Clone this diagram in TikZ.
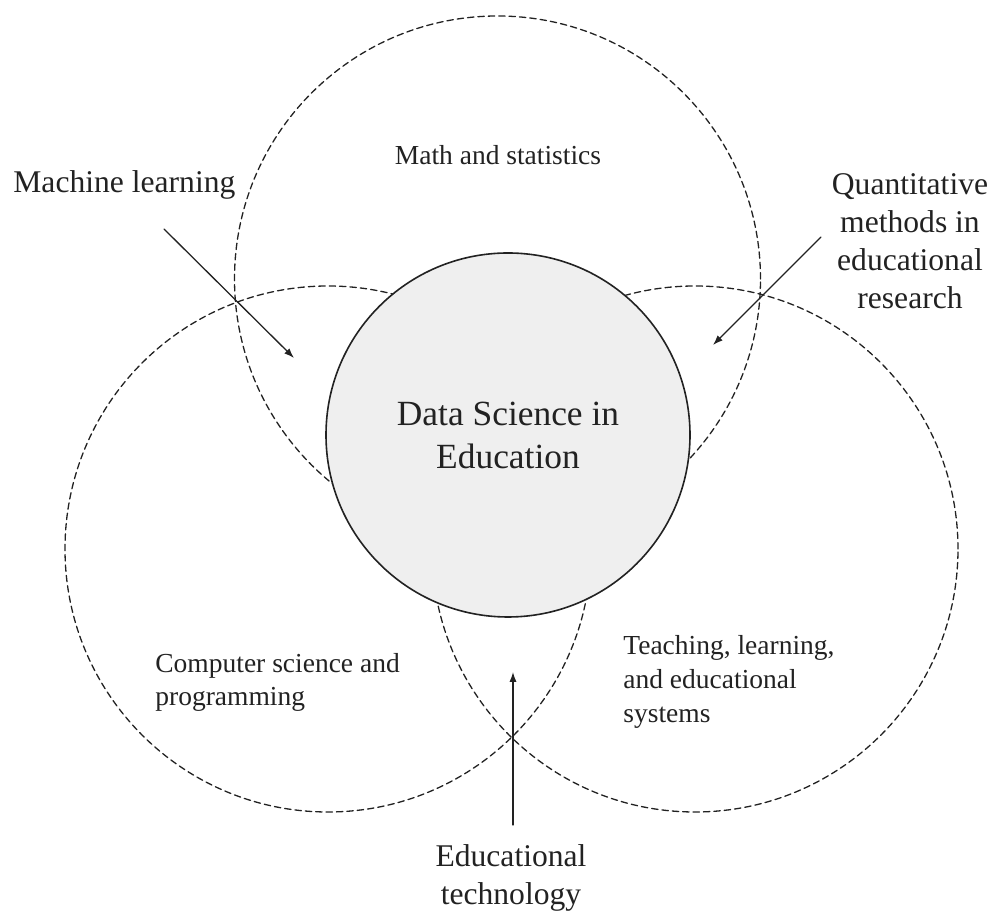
\documentclass[tikz,border=0pt]{standalone}
\usepackage{fontspec}
\setmainfont{Liberation Serif}
\usepackage{xcolor}
\usepackage{tikz}
\usetikzlibrary{arrows.meta}
\definecolor{ink}{HTML}{222222}
\definecolor{corefill}{HTML}{EFEFEF}
\tikzset{
  FieldCircle/.style={
    draw=ink, line width=0.65pt,
    dash pattern=on 3.2pt off 2pt
  },
  CoreCircle/.style={
    circle, draw=ink, line width=0.8pt,
    fill=corefill, minimum size=182pt, inner sep=0pt,
    align=center, text=ink,
    font=\fontsize{17.7pt}{21.5pt}\selectfont
  },
  Pointer/.style={
    draw=ink, line width=0.65pt,
    -{Latex[length=5pt,width=3.6pt]}
  },
  BigLabel/.style={
    inner sep=0pt, align=center, text=ink,
    font=\fontsize{15.8pt}{19pt}\selectfont
  },
  SmallLabel/.style={
    inner sep=0pt, align=left, text=ink,
    font=\fontsize{13.75pt}{16.9pt}\selectfont
  }
}

\begin{document}
\begin{tikzpicture}[x=0.5pt, y=-0.5pt, line cap=round, line join=round]
  \useasboundingbox (0,0) rectangle (992,913);
  % centres of the three fields
  \coordinate (Math) at (497.5,279);
  \coordinate (Comp) at (328,549);
  \coordinate (Teach) at (695,549);

  \draw[FieldCircle] (Math) circle[radius=131.5pt];
  \draw[FieldCircle] (Comp) circle[radius=131.5pt];
  \draw[FieldCircle] (Teach) circle[radius=131.5pt];

  % core
  \node[CoreCircle] (Core) at (508,435) {Data Science in\\Education};

  % field labels
  \node[SmallLabel, anchor=base] (MathLbl) at (498,165) {Math and statistics};
  \node[SmallLabel, anchor=west] (CompLbl) at (155,682.5) {Computer science and\\programming};
  \node[SmallLabel, anchor=west] (TeachLbl) at (623,682) {Teaching, learning,\\and educational\\systems};

  % overlap labels
  \node[BigLabel, anchor=base west] (MLLbl) at (13,193) {Machine learning};
  \node[BigLabel] (QMLbl) at (910,241) {Quantitative\\methods in\\educational\\research};
  \node[BigLabel] (ETLbl) at (511,878) {Educational\\technology};

  % pointers
  \coordinate (MLFrom) at (164,229);
  \coordinate (MLTo) at (294,358);
  \coordinate (QMFrom) at (821,237);
  \coordinate (QMTo) at (713,345);
  \coordinate (ETFrom) at (513,825);
  \coordinate (ETTo) at (513,672);
  \draw[Pointer] (MLFrom) -- (MLTo);
  \draw[Pointer] (QMFrom) -- (QMTo);
  \draw[Pointer] (ETFrom) -- (ETTo);
\end{tikzpicture}
\end{document}
